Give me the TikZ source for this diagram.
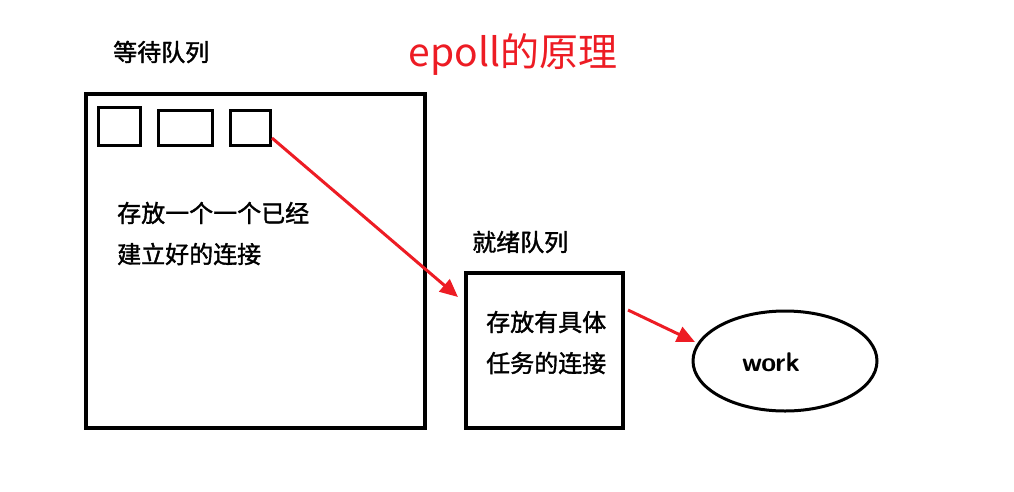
\documentclass[tikz,border=0pt]{standalone}
\usepackage{fontspec}
\newfontfamily\cjk{Noto Sans CJK SC}
\newfontfamily\cjkb{Noto Sans CJK SC}[FakeBold=1.5]
\usetikzlibrary{arrows.meta,shapes.geometric}
\definecolor{myred}{RGB}{237,28,36}
\begin{document}
\begin{tikzpicture}[x=1pt,y=-1pt,
  box/.style={draw,line width=4pt,inner sep=0pt},
  sbox/.style={draw,line width=3pt,inner sep=0pt},
  lbl/.style={font=\cjkb\fontsize{24}{28}\selectfont,anchor=west,inner sep=0pt},
  arr/.style={draw=myred,line width=3pt,-{Triangle[length=18pt,width=16pt]}}]
\useasboundingbox (0,0) rectangle (1014,491);
\node[font=\cjk\fontsize{39}{44}\selectfont,text=myred] (title) at (513,55) {epoll的原理};
\node[lbl] (wq) at (113,52) {等待队列};
\node[box,minimum width=339pt,minimum height=334pt] (big) at (255.5,261) {};
\node[sbox,minimum width=42pt,minimum height=38pt] (s1) at (119,126) {};
\node[sbox,minimum width=54pt,minimum height=35pt] (s2) at (185,127.5) {};
\node[sbox,minimum width=40pt,minimum height=35pt] (s3) at (250,127.5) {};
\node[lbl] (t1) at (117,213) {存放一个一个已经};
\node[lbl] (t2) at (117,254) {建立好的连接};
\node[lbl] (rq) at (472,242) {就绪队列};
\node[box,minimum width=157pt,minimum height=155pt] (ready) at (544.5,350.5) {};
\node[lbl] (t3) at (486,322) {存放有具体};
\node[lbl] (t4) at (486,363) {任务的连接};
\node[draw,line width=3pt,ellipse,minimum width=184pt,minimum height=100pt] (work) at (785,361) {};
\node[font=\sffamily\bfseries\fontsize{27}{30}\selectfont] (wl) at (771,362) {work};
\coordinate (a1) at (272,138);
\coordinate (b1) at (458,297);
\draw[arr] (a1) -- (b1);
\coordinate (a2) at (628,310);
\coordinate (b2) at (695,342);
\draw[arr] (a2) -- (b2);
\end{tikzpicture}
\end{document}
